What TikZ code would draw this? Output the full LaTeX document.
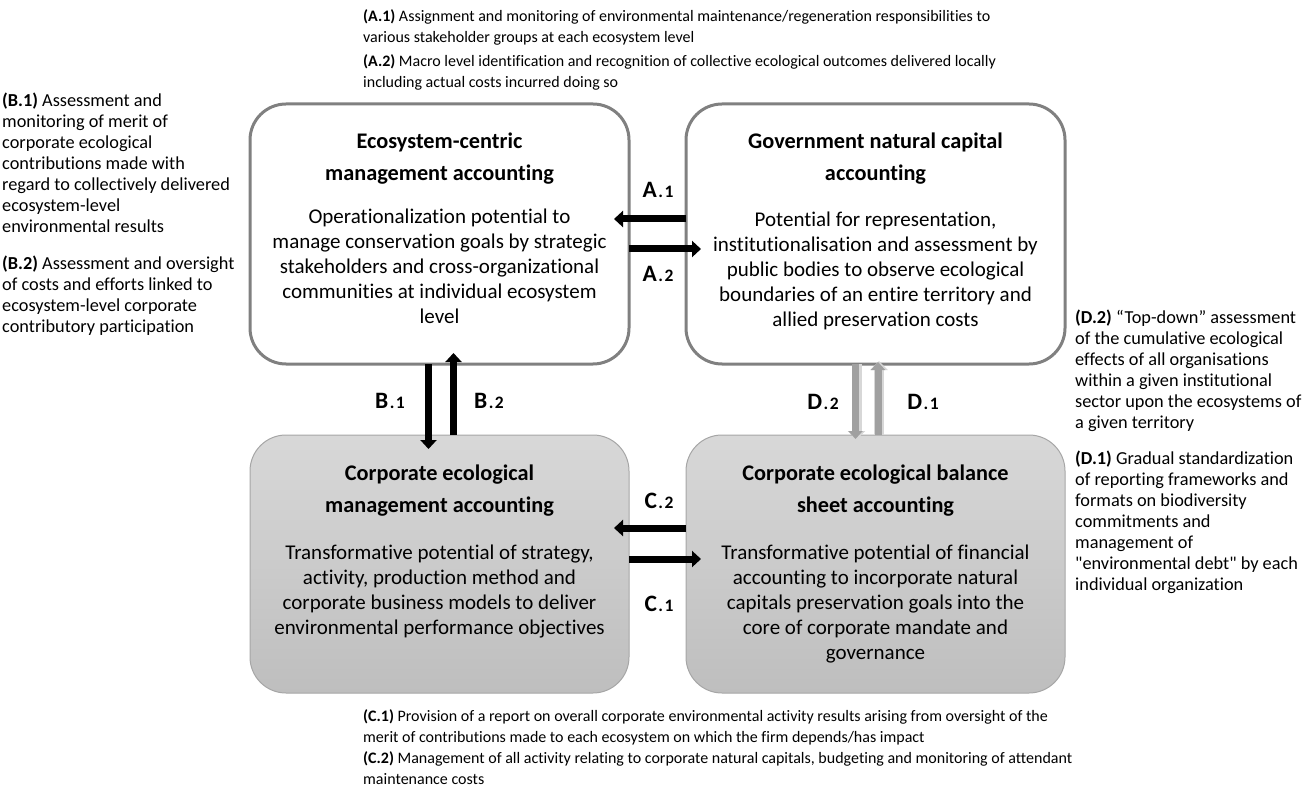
\documentclass[tikz,border=0pt]{standalone}
\usepackage{fontspec}
\setmainfont{Carlito}[Ligatures=NoCommon]
\newfontfamily\plainq{Carlito}
\usetikzlibrary{arrows.meta,calc}
\definecolor{bordergray}{RGB}{128,128,128}
\definecolor{lightborder}{RGB}{166,166,166}
\definecolor{filltop}{RGB}{216,216,216}
\definecolor{fillbot}{RGB}{190,190,190}
\definecolor{darrow}{RGB}{160,160,160}
\definecolor{dshadow}{RGB}{215,215,215}
\tikzset{
  topbox/.style={draw=bordergray, line width=3pt, fill=white, rounded corners=36pt,
    minimum width=379pt, minimum height=260pt, outer sep=0pt, inner sep=0pt},
  botbox/.style={draw=lightborder, line width=1pt, top color=filltop, bottom color=fillbot,
    rounded corners=36pt, minimum width=379pt, minimum height=258pt, outer sep=0pt, inner sep=0pt},
  annot/.style={font=\fontsize{16}{20.5}\selectfont, align=left, anchor=north west, inner sep=0pt},
  sideannot/.style={font=\fontsize{18.3}{21}\selectfont, align=left, anchor=north west, inner sep=0pt},
  boxtitle/.style={font=\bfseries\fontsize{22.3}{32}\selectfont, align=center, inner sep=0pt},
  boxbody/.style={font=\fontsize{21}{25}\selectfont, align=center, inner sep=0pt},
  lab/.style={font=\bfseries\fontsize{23.5}{23.5}\selectfont, inner sep=0pt},
  blackarrow/.style={line width=7pt, -{Triangle[length=9pt,width=16pt]}, black},
  grayarrow/.style={line width=7pt, -{Triangle[length=8pt,width=14pt]}, darrow},
  grayshadow/.style={line width=10pt, -{Triangle[length=9pt,width=17pt]}, dshadow},
}
\newcommand{\sublab}[2]{\kern1.5pt{\fontsize{17.5}{17.5}\selectfont #1\kern1.5pt #2}}
\begin{document}
\begin{tikzpicture}[x=1pt,y=-1pt]
\useasboundingbox (0,0) rectangle (1311,794);
% boxes
\node[topbox] (tl) at (439.5,234) {};
\node[topbox] (tr) at (875.5,234) {};
\node[botbox] (bl) at (439.5,564) {};
\node[botbox] (br) at (875.5,564) {};
% titles and bodies
\node[boxtitle] (tlt) at (439.5,158.5) {Ecosystem-centric\\management accounting};
\node[boxbody] (tlb) at (439.5,266) {Operationalization potential to\\manage conservation goals by strategic\\stakeholders and cross-organizational\\communities at individual ecosystem\\level};
\node[boxtitle] (trt) at (875.5,158.5) {Government natural capital\\accounting};
\node[boxbody] (trb) at (875.5,271) {Potential for representation,\\institutionalisation and assessment by\\public bodies to observe ecological\\boundaries of an entire territory and\\allied preservation costs};
\node[boxtitle] (blt) at (439.5,490.5) {Corporate ecological\\management accounting};
\node[boxbody] (blb) at (439.5,592) {Transformative potential of strategy,\\activity, production method and\\corporate business models to deliver\\environmental performance objectives};
\node[boxtitle] (brt) at (875.5,490.5) {Corporate ecological balance\\sheet accounting};
\node[boxbody] (brb) at (875.5,604) {Transformative potential of financial\\accounting to incorporate natural\\capitals preservation goals into the\\core of corporate mandate and\\governance};
% A arrows
\draw[blackarrow] ($(tr.west)+(0,-15)$) -- ($(tl.east)+(-15,-15)$);
\draw[blackarrow] ($(tl.east)+(0,15)$) -- ($(tr.west)+(15,15)$);
\node[lab] (la1) at (658,190) {A\sublab{.}{1}};
\node[lab] (la2) at (658,274) {A\sublab{.}{2}};
% B arrows
\draw[blackarrow] (tl.south -| 428.5,0) -- (428.5,449);
\draw[blackarrow] (bl.north -| 453.5,0) -- (453.5,353);
\node[lab] (lb1) at (390,401) {B\sublab{.}{1}};
\node[lab] (lb2) at (489,401) {B\sublab{.}{2}};
% C arrows
\draw[blackarrow] ($(br.west)+(0,-36)$) -- ($(bl.east)+(-15,-36)$);
\draw[blackarrow] ($(bl.east)+(0,-5)$) -- ($(br.west)+(15,-5)$);
\node[lab] (lc2) at (659,501) {C\sublab{.}{2}};
\node[lab] (lc1) at (659,604) {C\sublab{.}{1}};
% D arrows
\draw[grayshadow] ($(tr.south -| 855.5,0)+(1,0)$) -- (856.5,440);
\draw[grayshadow] ($(br.north -| 878,0)+(1,0)$) -- (879,361);
\draw[grayarrow] (tr.south -| 855.5,0) -- (855.5,439);
\draw[grayarrow] (br.north -| 878,0) -- (878,362);
\node[lab] (ld2) at (823,402) {D\sublab{.}{2}};
\node[lab] (ld1) at (923,402) {D\sublab{.}{1}};
% annotations
\node[annot] (ta1) at (363,9.9) {\textbf{(A.1)} Assignment and monitoring of environmental maintenance/regeneration responsibilities to\\various stakeholder groups at each ecosystem level};
\node[annot] (ta2) at (363,54.9) {\textbf{(A.2)} Macro level identification and recognition of collective ecological outcomes delivered locally\\including actual costs incurred doing so};
\node[sideannot] (tb1) at (2,93) {\textbf{(B.1)} Assessment and\\monitoring of merit of\\corporate ecological\\contributions made with\\regard to collectively delivered\\ecosystem-level\\environmental results};
\node[sideannot] (tb2) at (2,256) {\textbf{(B.2)} Assessment and oversight\\of costs and efforts linked to\\ecosystem-level corporate\\contributory participation};
\node[sideannot] (td2) at (1075,310) {\textbf{(D.2)} “Top-down” assessment\\of the cumulative ecological\\effects of all organisations\\within a given institutional\\sector upon the ecosystems of\\a given territory};
\node[sideannot] (td1) at (1075,451) {\textbf{(D.1)} Gradual standardization\\of reporting frameworks and\\formats on biodiversity\\commitments and\\management of\\{\plainq"}environmental debt{\plainq"} by each\\individual organization};
\node[annot] (tc1) at (363,709.9) {\textbf{(C.1)} Provision of a report on overall corporate environmental activity results arising from oversight of the\\merit of contributions made to each ecosystem on which the firm depends/has impact};
\node[annot] (tc2) at (363,751.9) {\textbf{(C.2)} Management of all activity relating to corporate natural capitals, budgeting and monitoring of attendant\\maintenance costs};
\end{tikzpicture}
\end{document}
